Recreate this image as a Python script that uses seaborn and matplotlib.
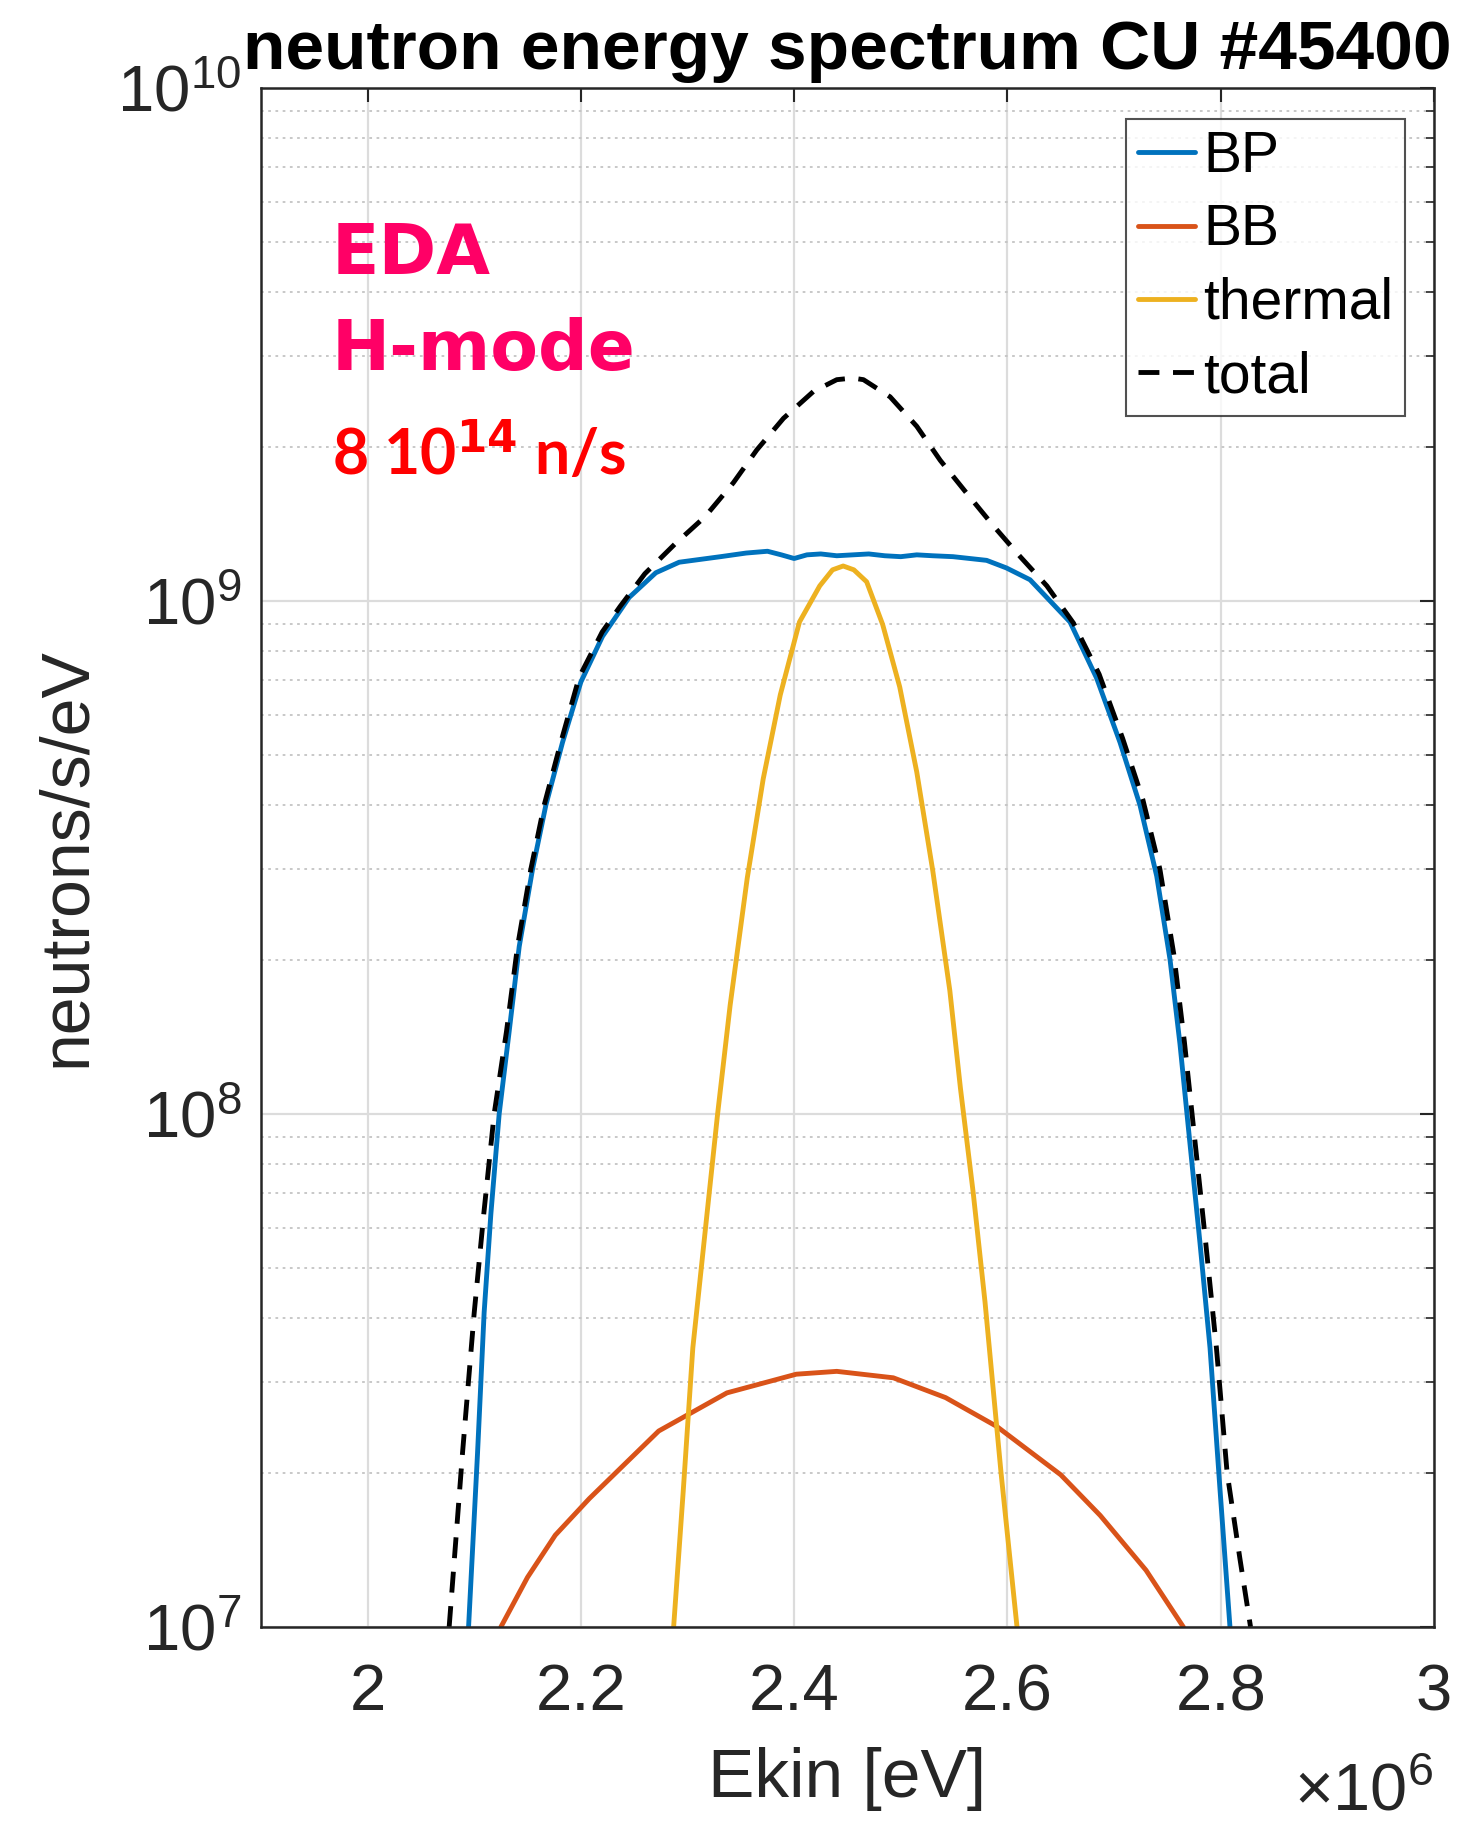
import numpy as np
import pandas as pd
import seaborn as sns
import matplotlib.pyplot as plt
from matplotlib.ticker import LogLocator, FixedLocator, NullFormatter, LogFormatterMathtext

# energies in MeV (axis shows x10^6 eV), spectra in neutrons/s/eV
e_bp = [2.0947, 2.1031, 2.1093, 2.1156, 2.1234, 2.1328, 2.1422, 2.1547, 2.1672, 2.1828,
        2.200, 2.2203, 2.2453, 2.2703, 2.2922, 2.331, 2.355, 2.375, 2.388, 2.400,
        2.412, 2.425, 2.440, 2.455, 2.470, 2.485, 2.500, 2.515, 2.530, 2.549,
        2.5805, 2.599, 2.6212, 2.6587, 2.6837, 2.7056, 2.7243, 2.740, 2.7525, 2.7618,
        2.7712, 2.7806, 2.790, 2.7993, 2.8087]
bp = [1.0e7, 2.18e7, 4.1e7, 6.38e7, 1.0e8, 1.45e8, 2.12e8, 3.0e8, 4.0e8, 5.3e8,
      6.95e8, 8.53e8, 1.016e9, 1.135e9, 1.19e9, 1.22e9, 1.24e9, 1.25e9, 1.23e9, 1.21e9,
      1.23e9, 1.235e9, 1.225e9, 1.23e9, 1.235e9, 1.225e9, 1.22e9, 1.23e9, 1.225e9, 1.22e9,
      1.20e9, 1.16e9, 1.10e9, 9.1e8, 7.07e8, 5.3e8, 4.0e8, 2.91e8, 2.0e8, 1.37e8,
      8.75e7, 5.6e7, 3.5e7, 1.86e7, 1.0e7]

e_bb = [2.125, 2.150, 2.176, 2.208, 2.273, 2.337, 2.402, 2.440, 2.493, 2.542,
        2.590, 2.650, 2.687, 2.730, 2.765]
bb = [1.0e7, 1.25e7, 1.51e7, 1.78e7, 2.41e7, 2.86e7, 3.11e7, 3.15e7, 3.06e7, 2.80e7,
      2.46e7, 1.98e7, 1.65e7, 1.29e7, 1.0e7]

e_th = [2.287, 2.296, 2.305, 2.318, 2.328, 2.340, 2.356, 2.371, 2.387, 2.405,
        2.424, 2.436, 2.446, 2.456, 2.468, 2.483, 2.499, 2.515, 2.530, 2.546,
        2.556, 2.568, 2.579, 2.594, 2.609]
th = [1.0e7, 1.84e7, 3.5e7, 6.3e7, 9.9e7, 1.63e8, 2.88e8, 4.5e8, 6.56e8, 9.1e8,
      1.07e9, 1.15e9, 1.17e9, 1.15e9, 1.09e9, 9.0e8, 6.8e8, 4.64e8, 2.98e8, 1.74e8,
      1.12e8, 7.0e7, 4.3e7, 2.0e7, 1.0e7]

e_tot = [2.0765, 2.089, 2.100, 2.109, 2.1187, 2.1303, 2.1406, 2.1531, 2.1656, 2.1812,
         2.1984, 2.220, 2.2367, 2.260, 2.288, 2.3165, 2.343, 2.365, 2.390, 2.418,
         2.440, 2.455, 2.465, 2.490, 2.515, 2.537, 2.562, 2.587, 2.612, 2.637,
         2.662, 2.686, 2.708, 2.727, 2.743, 2.756, 2.766, 2.776, 2.786, 2.796,
         2.806, 2.818, 2.828]
tot = [1.0e7, 2.18e7, 4.1e7, 6.4e7, 1.0e8, 1.45e8, 2.12e8, 3.0e8, 4.0e8, 5.3e8,
       7.1e8, 8.7e8, 9.75e8, 1.13e9, 1.29e9, 1.46e9, 1.70e9, 1.97e9, 2.27e9, 2.56e9,
       2.70e9, 2.72e9, 2.70e9, 2.50e9, 2.19e9, 1.88e9, 1.62e9, 1.40e9, 1.22e9, 1.07e9,
       9.05e8, 7.2e8, 5.4e8, 4.1e8, 3.0e8, 2.05e8, 1.38e8, 8.8e7, 5.6e7, 3.5e7,
       2.0e7, 1.36e7, 1.0e7]

x_ticks = [2.0, 2.2, 2.4, 2.6, 2.8, 3.0]
x_ticklabels = ['2', '2.2', '2.4', '2.6', '2.8', '3']

sns.set_theme(style="white")
plt.rcParams['font.family'] = ['Liberation Sans', 'DejaVu Sans']
plt.rcParams['mathtext.default'] = 'regular'

fig = plt.figure(figsize=(14.61, 18.25), dpi=100)
ax = fig.add_axes([0.1786, 0.1085, 0.8029, 0.8433])

lw = 3.5
sns.lineplot(x=e_bp, y=bp, ax=ax, color='#0072BD', lw=lw, label='BP', sort=False, estimator=None)
sns.lineplot(x=e_bb, y=bb, ax=ax, color='#D95319', lw=lw, label='BB', sort=False, estimator=None)
sns.lineplot(x=e_th, y=th, ax=ax, color='#EDB120', lw=lw, label='thermal', sort=False, estimator=None)
sns.lineplot(x=e_tot, y=tot, ax=ax, color='black', lw=lw, label='total', sort=False,
             estimator=None, dashes=False)
ax.lines[-1].set_dashes((4.3, 2.8))

ax.set_yscale('log')
ax.set_xlim(1.9, 3.0)
ax.set_ylim(1e7, 1e10)

ax.xaxis.set_major_locator(FixedLocator(x_ticks))
ax.set_xticklabels(x_ticklabels)
ax.yaxis.set_major_locator(LogLocator(base=10, numticks=10))
ax.yaxis.set_major_formatter(LogFormatterMathtext())
ax.yaxis.set_minor_locator(LogLocator(base=10, subs=np.arange(2, 10), numticks=20))
ax.yaxis.set_minor_formatter(NullFormatter())

ax.grid(True, which='major', color='#dcdcdc', lw=1.6, ls='-')
ax.grid(True, which='minor', axis='y', color='#c4c4c4', lw=1.3, ls=(0, (1.5, 2.5)))
ax.set_axisbelow(True)

ax.tick_params(which='both', direction='in', top=True, right=True, colors='#262626')
ax.tick_params(which='major', length=10, width=1.5, labelsize=47, pad=26)
ax.tick_params(which='minor', length=6, width=1.2)
ax.tick_params(axis='y', which='major', pad=14)
for s in ax.spines.values():
    s.set_color('#262626')
    s.set_linewidth(1.8)

ax.set_title('neutron energy spectrum CU #45400', fontsize=50, fontweight='bold',
             color='black', pad=14)
ax.set_xlabel('Ekin [eV]', fontsize=50, color='#262626')
ax.set_ylabel('neutrons/s/eV', fontsize=49, color='#262626')
ax.xaxis.set_label_coords(0.5, -0.078)
ax.yaxis.set_label_coords(-0.138, 0.5)
ax.text(1.0, -0.119, r'$\times10^{6}$', transform=ax.transAxes, ha='right', va='baseline',
        fontsize=48, color='#262626')

ax.text(0.0605, 0.879, 'EDA', transform=ax.transAxes, fontsize=50, fontweight='bold',
        color='#FF0066', family=['DejaVu Sans'], va='baseline')
ax.text(0.0605, 0.8168, 'H-mode', transform=ax.transAxes, fontsize=50, fontweight='bold',
        color='#FF0066', family=['DejaVu Sans'], va='baseline')
ax.text(0.0605, 0.7485, r'8 10$^{\mathbf{14}}$ n/s', transform=ax.transAxes, fontsize=45,
        fontweight='bold', color='#FF0000', family=['Lato', 'DejaVu Sans'], va='baseline')

leg = ax.legend(loc='upper right', bbox_to_anchor=(0.975, 0.980), fontsize=41,
                frameon=True, fancybox=False, handlelength=1.0, handletextpad=0.15,
                borderpad=0.2, labelspacing=0.34, borderaxespad=0)
leg.get_frame().set_edgecolor('#262626')
leg.get_frame().set_linewidth(1.5)
for t in leg.get_texts():
    t.set_color('black')

fig.savefig('out.png', dpi=100)
